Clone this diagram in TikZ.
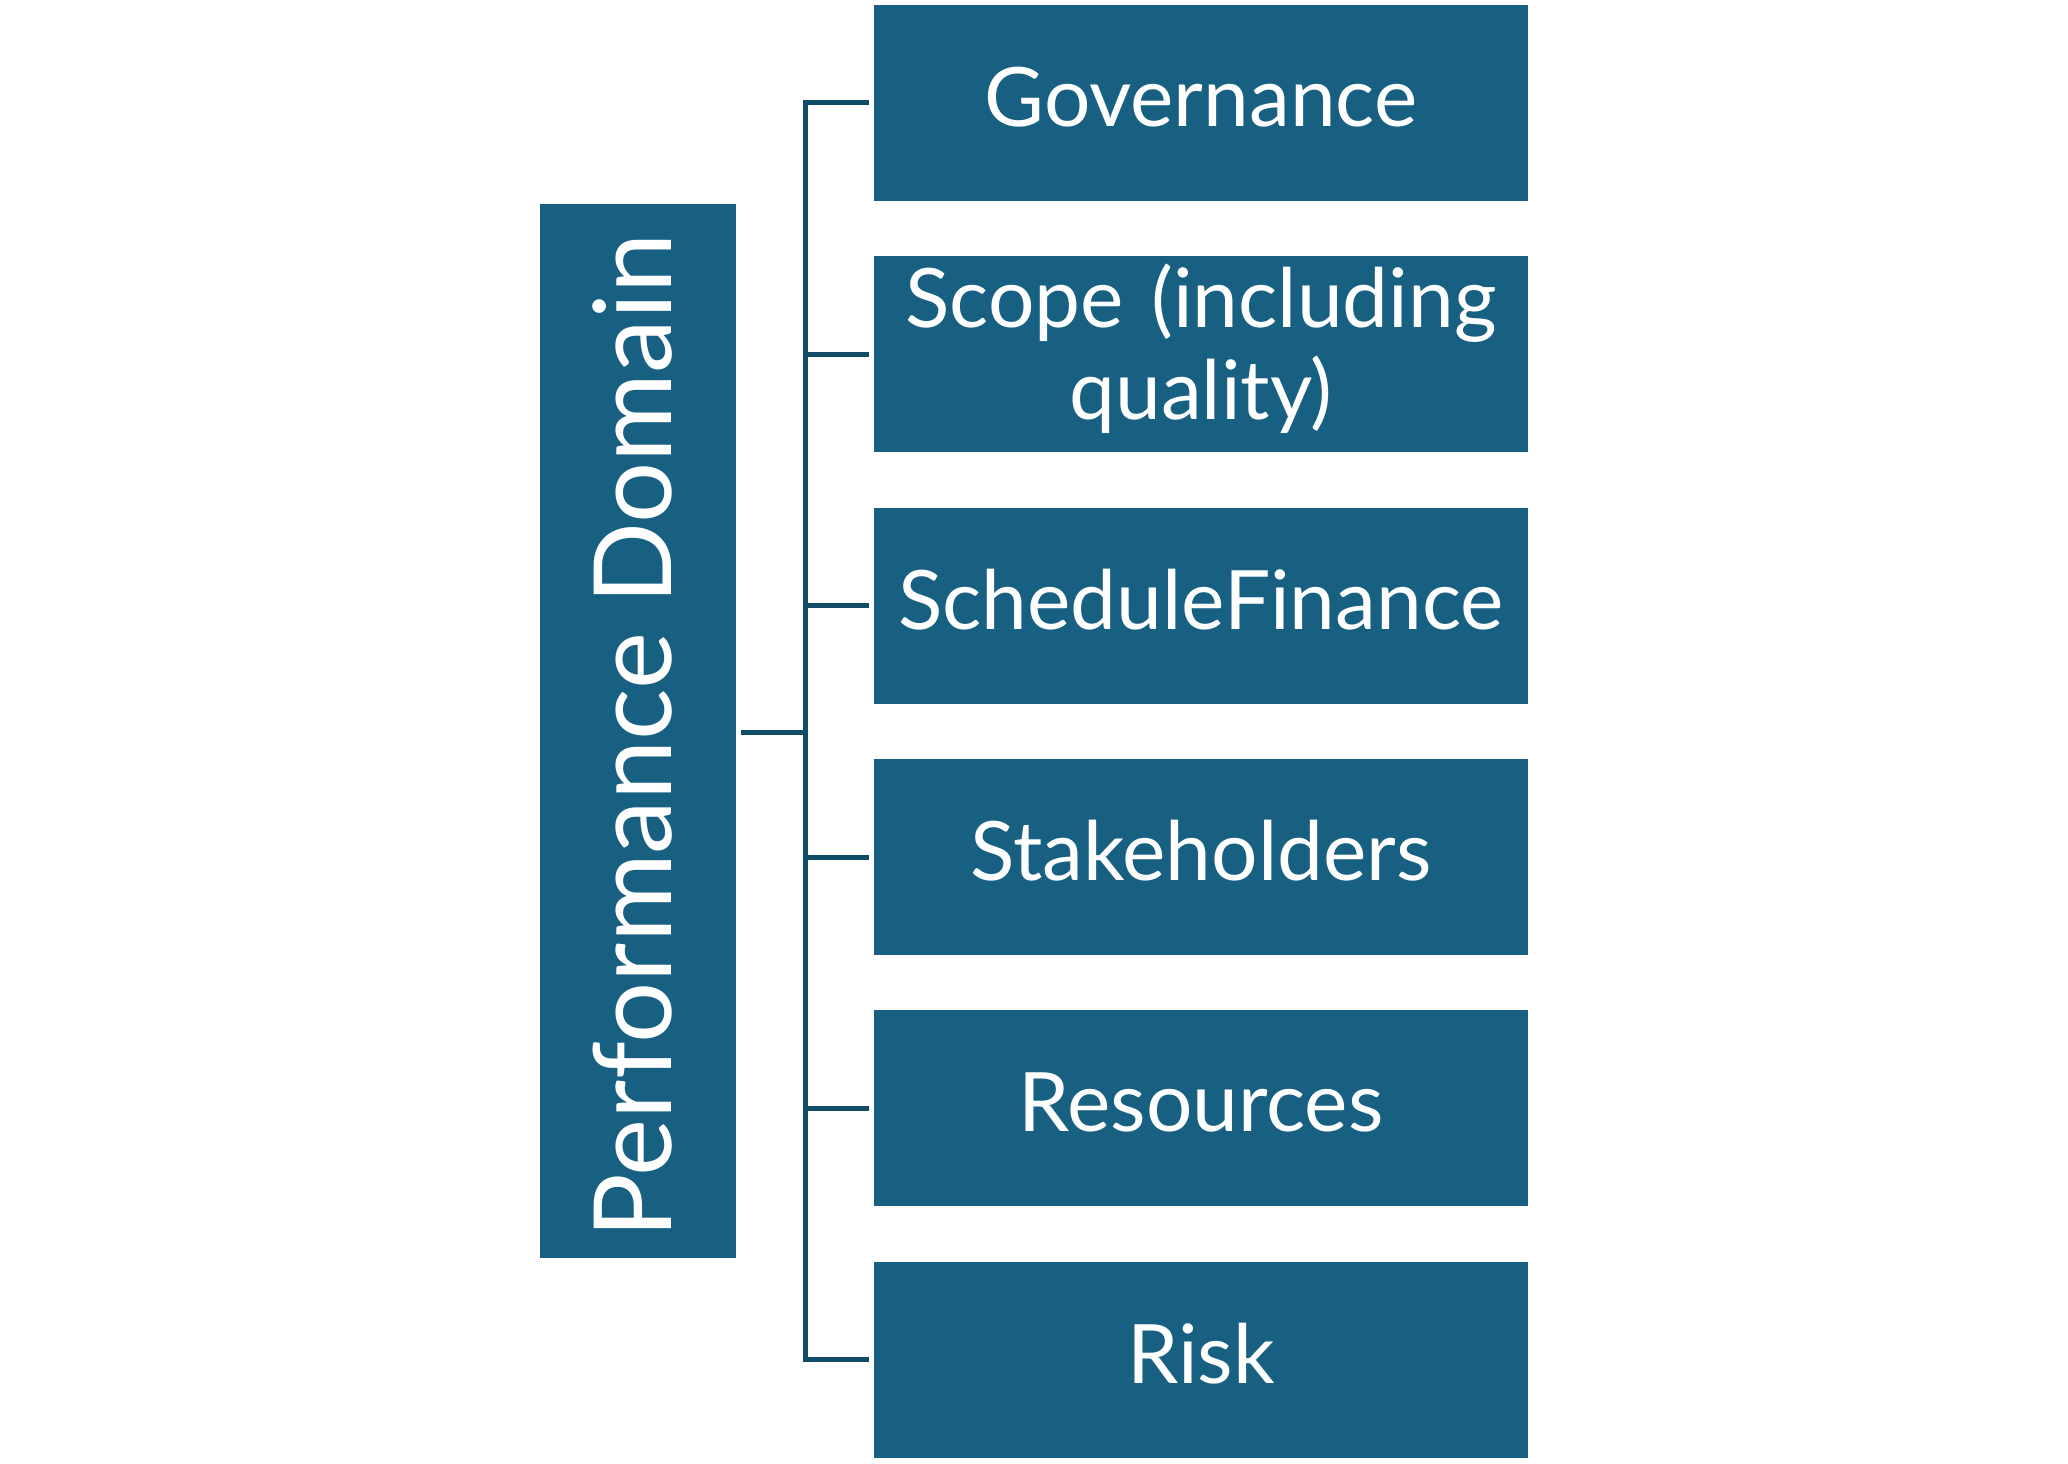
\documentclass[tikz,border=0pt]{standalone}
\usepackage{fontspec}
\setmainfont{Lato}
\definecolor{boxfill}{RGB}{23,96,130}
\definecolor{linecol}{RGB}{16,76,104}
\begin{document}
\begin{tikzpicture}[x=1bp,y=-1bp,
  rbox/.style={fill=boxfill, draw=none, minimum width=654bp, minimum height=196bp, inner sep=0pt},
  rtext/.style={text=white, align=center, font=\fontsize{82bp}{92bp}\selectfont, text width=650bp, yshift=6bp},
  lbox/.style={fill=boxfill, draw=none, minimum width=196bp, minimum height=1053bp, inner sep=0pt},
  conn/.style={draw=linecol, line width=5bp, line join=miter}]
\useasboundingbox (0,0) rectangle (2068,1464);
\fill[white] (0,0) rectangle (2068,1464);
\node[lbox] (L) at (638,731) {};
\node[text=white, rotate=90, font=\fontsize{108bp}{116bp}\selectfont] (Lt) at ([xshift=-5bp,yshift=-5bp]L.center) {Performance Domain};
\node[rbox] (R1) at (1201,103) {};
\node[rbox] (R2) at (1201,354.3) {};
\node[rbox] (R3) at (1201,605.6) {};
\node[rbox] (R4) at (1201,857) {};
\node[rbox] (R5) at (1201,1108.3) {};
\node[rbox] (R6) at (1201,1359.6) {};
\node[rtext] (T1) at (R1.center) {Governance};
\node[rtext] (T2) at (R2.center) {Scope (including\\quality)};
\node[rtext] (T3) at (R3.center) {ScheduleFinance};
\node[rtext] (T4) at (R4.center) {Stakeholders};
\node[rtext] (T5) at (R5.center) {Resources};
\node[rtext] (T6) at (R6.center) {Risk};
\coordinate (J) at (805.5,732);
\draw[conn] ([xshift=5bp]L.east |- J) -- (J);
\draw[conn] ([xshift=-5bp]R1.west) -- (J |- R1.west) -- (J |- R6.west) -- ([xshift=-5bp]R6.west);
\foreach \r in {R2,R3,R4,R5} \draw[conn] (J |- \r.west) -- ([xshift=-5bp]\r.west);
\end{tikzpicture}
\end{document}
